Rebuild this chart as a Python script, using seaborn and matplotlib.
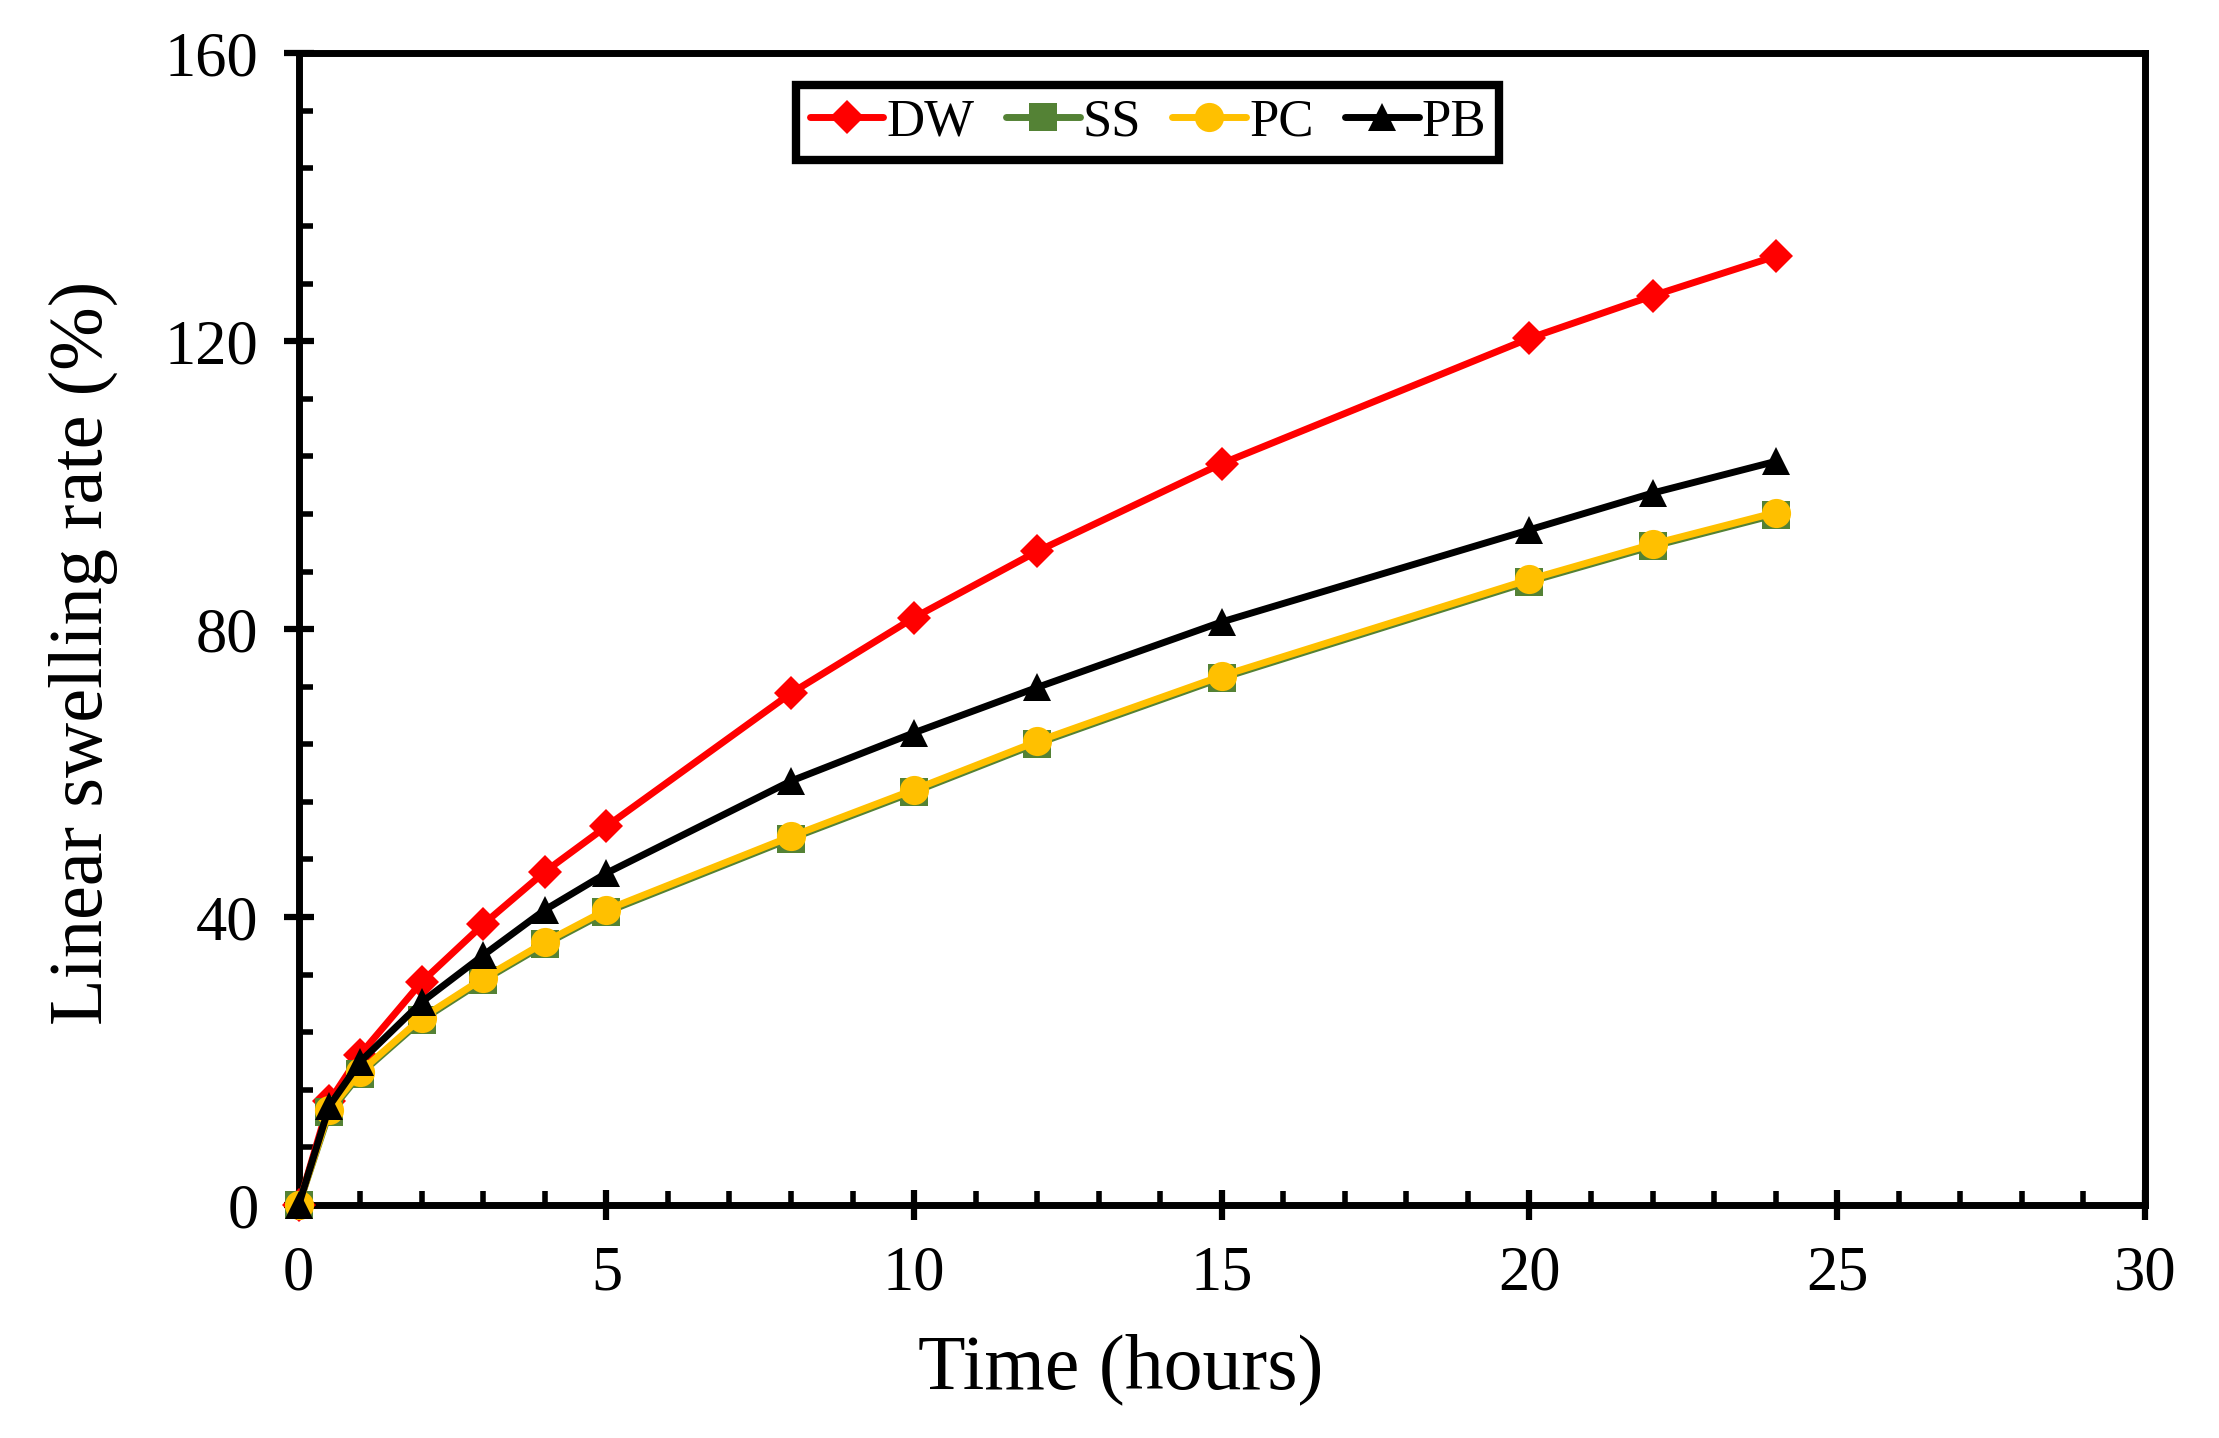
import pandas as pd
import matplotlib.pyplot as plt
import seaborn as sns
from matplotlib.ticker import MultipleLocator

# DATOS
time_h = [0, 0.5, 1, 2, 3, 4, 5, 8, 10, 12, 15, 20, 22, 24]
dw = [0, 14.4, 20.9, 31.0, 39.0, 46.3, 52.6, 71.1, 81.6, 90.8, 103.0, 120.4, 126.3, 131.8]
ss = [0, 12.9, 18.2, 25.7, 31.2, 36.2, 40.7, 50.9, 57.4, 64.1, 73.2, 86.6, 91.5, 95.9]
pc = [0, 13.2, 18.5, 26.0, 31.5, 36.5, 41.0, 51.2, 57.7, 64.4, 73.5, 86.9, 91.8, 96.2]
pb = [0, 13.8, 19.9, 28.2, 34.7, 41.0, 46.1, 58.9, 65.6, 71.9, 81.0, 93.8, 98.9, 103.3]
series = ["DW", "SS", "PC", "PB"]

datos = pd.DataFrame({
    "time": time_h * 4,
    "rate": dw + ss + pc + pb,
    "serie": [s for s in series for _ in time_h],
})

sns.set_style("white")
plt.rcParams["font.family"] = ["Liberation Serif", "DejaVu Serif"]
plt.rcParams["text.color"] = "black"
plt.rcParams["axes.labelcolor"] = "black"
plt.rcParams["xtick.color"] = "black"
plt.rcParams["ytick.color"] = "black"

colores = {"DW": "#FF0000", "SS": "#548235", "PC": "#FFC000", "PB": "#000000"}
marcas = {"DW": "D", "SS": "s", "PC": "o", "PB": "^"}
tamanos = {"DW": 17, "SS": 20, "PC": 21, "PB": 20}

fig = plt.figure(figsize=(22.19, 14.38), dpi=100)
ax = fig.add_axes([0.1346, 0.162, 0.832, 0.801])

# una llamada por serie para controlar el tamano de marcador
for s in series:
    sub = datos[datos["serie"] == s]
    sns.lineplot(
        data=sub, x="time", y="rate", color=colores[s], marker=marcas[s],
        linewidth=5, markersize=tamanos[s], markeredgewidth=0,
        clip_on=False, zorder=3, ax=ax,
    )

ax.set_xlim(0, 30)
ax.set_ylim(0, 160)
ax.xaxis.set_major_locator(MultipleLocator(5))
ax.xaxis.set_minor_locator(MultipleLocator(1))
ax.yaxis.set_major_locator(MultipleLocator(40))
ax.yaxis.set_minor_locator(MultipleLocator(8))
ax.tick_params(which="major", direction="inout", length=22, width=4.5,
               labelsize=45, pad=18, bottom=True, left=True)
ax.tick_params(which="minor", direction="in", length=10, width=4,
               bottom=True, left=True)
for sp in ax.spines.values():
    sp.set_linewidth(5)
    sp.set_color("black")
    sp.set_zorder(2)

ax.set_xlabel("Time (hours)", fontsize=56)
ax.set_ylabel("Linear swelling rate (%)", fontsize=55)
ax.xaxis.set_label_coords(0.445, -0.112)
ax.yaxis.set_label_coords(-0.098, 0.479)

handles = [
    plt.Line2D([], [], color=colores[s], marker=marcas[s], lw=5,
               markersize=tamanos[s], markeredgewidth=0) for s in series
]
leg = ax.legend(
    handles, series, loc="upper center", bbox_to_anchor=(0.46, 0.972),
    ncol=4, fontsize=38, frameon=True, fancybox=False, edgecolor="black",
    framealpha=1, handlelength=1.4, handletextpad=0.05, columnspacing=0.6,
    borderpad=0.25, borderaxespad=0,
)
leg.get_frame().set_linewidth(6)

fig.savefig("out.png", dpi=100)
